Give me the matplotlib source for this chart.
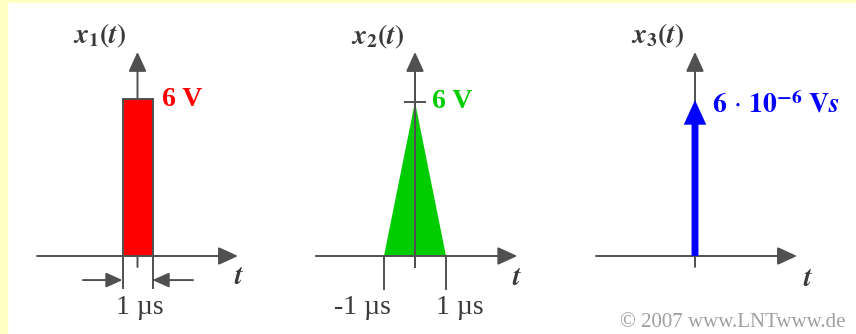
import matplotlib.pyplot as plt
from matplotlib.patches import Rectangle

plt.rcParams['font.family'] = 'Liberation Serif'
plt.rcParams['mathtext.fontset'] = 'stix'

# signal parameters (time in µs, amplitude in V)
rect_width = 1.0
rect_height = 6.0
tri_t = [-1.0, 0.0, 1.0]
tri_x = [0.0, 6.0, 0.0]
dirac_weight = 6.0          # times 10^-6 Vs
rect_label = '6 V'
tri_label = '6 V'
dirac_label = r'$\mathbf{6}\,\cdot\,\mathbf{10}^{\mathbf{-6}}\ \mathbf{V}\boldsymbol{s}$'
titles = [r'$\boldsymbol{x}_{\mathbf{1}}\boldsymbol{(t)}$',
          r'$\boldsymbol{x}_{\mathbf{2}}\boldsymbol{(t)}$',
          r'$\boldsymbol{x}_{\mathbf{3}}\boldsymbol{(t)}$']

W, H = 856, 334
AXIS = '#505050'
TXT = '#3a3a3a'
FS = 20

fig = plt.figure(figsize=(W / 100, H / 100), dpi=100, facecolor='white')
fig.patches.append(Rectangle((0, 0), 7 / W, 1, transform=fig.transFigure,
                             color='#ffffc4', zorder=0))
fig.patches.append(Rectangle((0, 1 - 2 / H), 1, 2 / H, transform=fig.transFigure,
                             color='#ffffc4', zorder=0))


def panel(cx, sx, sy, zero_y=256):
    # axes whose data origin lands at pixel (cx, zero_y)
    left, right = cx - 130, cx + 130
    top, bottom = 10, 334
    ax = fig.add_axes([left / W, (H - bottom) / H, (right - left) / W, (bottom - top) / H])
    ax.set_xlim((left - cx) / sx, (right - cx) / sx)
    ax.set_ylim(-(bottom - zero_y) / sy, (zero_y - top) / sy)
    ax.axis('off')
    ax.patch.set_alpha(0)
    return ax


def draw_axes(ax, xl, xr, yb, yt):
    head = dict(arrowstyle='-|>,head_length=1.2,head_width=0.55', mutation_scale=10,
                color=AXIS, lw=1.4, shrinkA=0, shrinkB=0)
    ax.annotate('', xy=(xr, 0), xytext=(xl, 0), arrowprops=head, zorder=2)
    ax.annotate('', xy=(0, yt), xytext=(0, yb), arrowprops=head, zorder=2)


def t_label(ax, x, y):
    ax.text(x, y, r'$\boldsymbol{t}$', fontsize=FS, color=TXT, ha='center', va='center')


# rectangular pulse
ax1 = panel(137.5, 30, 157 / 6)
draw_axes(ax1, -3.35, 3.35, -0.42, 7.8)
ax1.bar(0, rect_height, width=rect_width, color='red', edgecolor=AXIS, lw=1.4, zorder=3)
for e in (-rect_width / 2, rect_width / 2):
    ax1.plot([e, e], [0, -1.22], color=AXIS, lw=1.4, zorder=3)
dim = dict(arrowstyle='-|>,head_length=1.0,head_width=0.45', mutation_scale=10,
           color=AXIS, lw=1.4, shrinkA=0, shrinkB=0)
ax1.annotate('', xy=(-rect_width / 2, -0.92), xytext=(-1.82, -0.92), arrowprops=dim)
ax1.annotate('', xy=(rect_width / 2, -0.92), xytext=(1.85, -0.92), arrowprops=dim)
ax1.text(0.08, -1.97, '1 µs', fontsize=FS, color=TXT, ha='center', va='center')
ax1.text(0.83, rect_height, rect_label, fontsize=FS, color='red', fontweight='bold',
         ha='left', va='center')
ax1.text(-1.25, 8.4, titles[0], fontsize=FS, color=TXT, ha='center', va='center')
t_label(ax1, 3.4, -0.84)

# triangular pulse, with the time axis line kept visible on top of it
ax2 = panel(415, 31, 154 / 6)
ax2.fill(tri_t, tri_x, color='#00cc00', lw=0, zorder=0.5)
draw_axes(ax2, -3.2, 3.3, -0.42, 7.95)
ax2.plot([0, 0], [-0.42, 7.0], color=AXIS, lw=1.4, zorder=4)
ax2.plot([-0.33, 0.33], [tri_x[1], tri_x[1]], color=AXIS, lw=1.4, zorder=4)
for e in (tri_t[0], tri_t[2]):
    ax2.plot([e, e], [0, -1.3], color=AXIS, lw=1.4, zorder=3)
ax2.text(-1.7, -1.99, '-1 µs', fontsize=FS, color=TXT, ha='center', va='center')
ax2.text(1.45, -1.99, '1 µs', fontsize=FS, color=TXT, ha='center', va='center')
ax2.text(0.55, tri_x[1], tri_label, fontsize=FS, color='#00cc00', fontweight='bold',
         ha='left', va='center')
ax2.text(-1.2, 8.55, titles[1], fontsize=FS, color=TXT, ha='center', va='center')
t_label(ax2, 3.3, -0.86)

# Dirac impulse
ax3 = panel(695, 30, 26)
draw_axes(ax3, -3.3, 3.4, -0.42, 7.85)
ax3.arrow(0, 0, 0, dirac_weight, width=0.23, head_width=0.75, head_length=0.95,
          length_includes_head=True, color='blue', lw=0, zorder=3)
ax3.text(0.55, dirac_weight - 0.2, dirac_label, fontsize=FS, color='blue',
         ha='left', va='center')
ax3.text(-1.23, 8.45, titles[2], fontsize=FS, color=TXT, ha='center', va='center')
t_label(ax3, 3.77, -0.92)

fig.text(846 / W, (H - 327) / H, '© 2007 www.LNTwww.de', fontsize=15,
         color='#a0a0a0', ha='right', va='baseline')

fig.savefig('out.png', dpi=100, facecolor=fig.get_facecolor())
